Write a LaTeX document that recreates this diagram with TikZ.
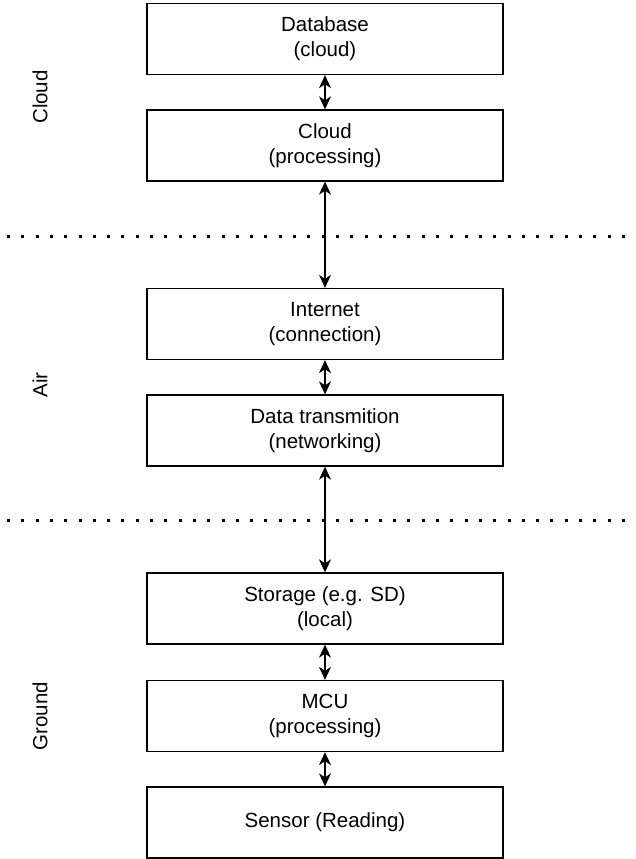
\documentclass[tikz,border=0pt]{standalone}
\usepackage{fontspec}
\setmainfont{Liberation Sans}
\usepackage{tikz}
\usetikzlibrary{positioning,arrows.meta}

\begin{document}
\begin{tikzpicture}[x=1pt, y=-1pt,
    layerbox/.style={draw, line width=1.3pt, minimum width=356pt, minimum height=71pt,
      align=center, font=\fontsize{20.5}{25}\selectfont},
    link/.style={{Stealth[length=13pt,width=12pt,inset=4pt]}-{Stealth[length=13pt,width=12pt,inset=4pt]}, line width=1.4pt},
    sep/.style={line width=3pt, dash pattern=on 3pt off 11.3pt},
    zone/.style={rotate=90, font=\fontsize{20.5}{25}\selectfont}]
        \useasboundingbox (0,0) rectangle (635,859);

        % Cloud
        \node[layerbox] (db) at (325,39) {Database\\(cloud)};
        \node[layerbox] (cloudproc) at (325,145.5) {Cloud\\(processing)};

        % Air
        \node[layerbox] (internet) at (325,324) {Internet\\(connection)};
        \node[layerbox] (datatx) at (325,430.5) {Data transmition\\(networking)};

        % Ground
        \node[layerbox] (storage) at (325,608.5) {Storage (e.g. SD)\\(local)};
        \node[layerbox] (mcu) at (325,716) {MCU\\(processing)};
        \node[layerbox] (sensor) at (325,822.5) {Sensor (Reading)};

        % Links
        \draw[link] (db) -- (cloudproc);
        \draw[link] (cloudproc) -- (internet);
        \draw[link] (internet) -- (datatx);
        \draw[link] (datatx) -- (storage);
        \draw[link] (storage) -- (mcu);
        \draw[link] (mcu) -- (sensor);

        % Layer borders
        \draw[sep] (7,236) -- (635,236);
        \draw[sep] (7,520) -- (635,520);

        % Layer names
        \node[zone] (cloudlbl) at (40,97) {Cloud};
        \node[zone] (airlbl) at (40,385) {Air};
        \node[zone] (groundlbl) at (40,716) {Ground};
      \end{tikzpicture}
\end{document}
